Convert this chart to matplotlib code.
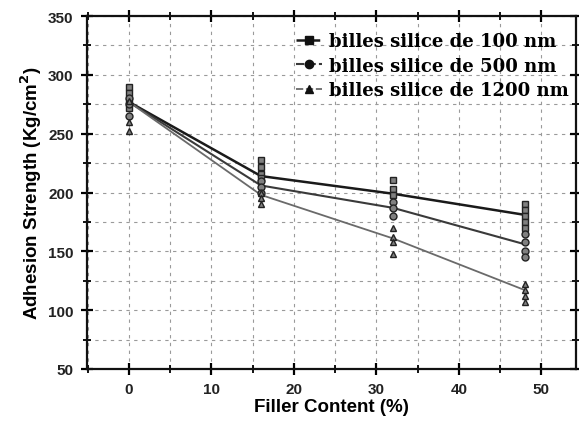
import matplotlib
matplotlib.use("Agg")
import matplotlib.pyplot as plt
from matplotlib.ticker import MultipleLocator
from matplotlib.lines import Line2D

filler = [0, 16, 32, 48]
mean_100 = [277, 214, 199, 181]
mean_500 = [277, 206, 187, 156]
mean_1200 = [277, 198, 161, 117]

pts_100 = {0: [290, 285, 278, 272], 16: [228, 222, 216, 212], 32: [211, 203, 198], 48: [190, 185, 180, 175, 170]}
pts_500 = {0: [280, 275, 265], 16: [210, 205, 200], 32: [192, 187, 180], 48: [165, 158, 150, 145]}
pts_1200 = {0: [278, 260, 252], 16: [200, 195, 190], 32: [170, 162, 158, 148], 48: [122, 117, 112, 107]}

labels = ["billes silice de 100 nm", "billes silice de 500 nm", "billes silice de 1200 nm"]

fig = plt.figure(figsize=(5.79, 4.27), dpi=100)
ax = fig.add_axes([0.150, 0.1335, 0.845, 0.8265])

ax.set_xlim(-5.1, 54.2)
ax.set_ylim(50, 350)
ax.xaxis.set_major_locator(MultipleLocator(10))
ax.xaxis.set_minor_locator(MultipleLocator(5))
ax.yaxis.set_major_locator(MultipleLocator(50))
ax.yaxis.set_minor_locator(MultipleLocator(25))

ax.grid(True, which="both", linestyle=(0, (3, 4)), color="#9a9a9a", linewidth=0.8)
ax.set_axisbelow(True)

series = [
    (mean_100, pts_100, "s", "#1a1a1a", "-", 1.8),
    (mean_500, pts_500, "o", "#3a3a3a", "-", 1.5),
    (mean_1200, pts_1200, "^", "#6a6a6a", "-", 1.3),
]
handles = []
for (means, pts, mk, col, ls, lw), lab in zip(series, labels):
    ax.plot(filler, means, color=col, linestyle=ls, linewidth=lw, zorder=3)
    for x, vals in pts.items():
        ax.plot([x] * len(vals), vals, linestyle="none", marker=mk, markersize=5,
                markerfacecolor="#808080", markeredgecolor="#222222", markeredgewidth=1.0, zorder=4)
    handles.append(Line2D([0], [0], color=col, linestyle=(0, (4, 1.5)), linewidth=lw, marker=mk,
                          markersize=6, markerfacecolor="#111111", markeredgecolor="#111111"))

for s in ax.spines.values():
    s.set_linewidth(1.6)
    s.set_color("#111111")

ax.tick_params(axis="both", which="major", direction="inout", length=9, width=1.6,
               top=True, right=True, labelsize=11, pad=5)
ax.tick_params(axis="both", which="minor", direction="inout", length=6, width=1.3,
               top=True, right=True)

for t in ax.get_xticklabels() + ax.get_yticklabels():
    t.set_fontweight("bold")
    t.set_family("Liberation Sans")
    t.set_color("#222222")

ax.set_xlabel("Filler Content (%)", fontsize=13.5, fontweight="bold", family="Liberation Sans", labelpad=1)
ax.set_ylabel("Adhesion Strength (Kg/cm$^\\mathbf{2}$)", fontsize=13.5, fontweight="bold", family="Liberation Sans", labelpad=3)

leg = ax.legend(handles, labels, loc="upper left", bbox_to_anchor=(0.395, 1.0), frameon=False,
                prop={"family": "DejaVu Serif", "weight": "bold", "size": 13},
                handlelength=1.4, handletextpad=0.4, labelspacing=0.35, borderaxespad=0.5)

fig.savefig("out.png", dpi=100)
